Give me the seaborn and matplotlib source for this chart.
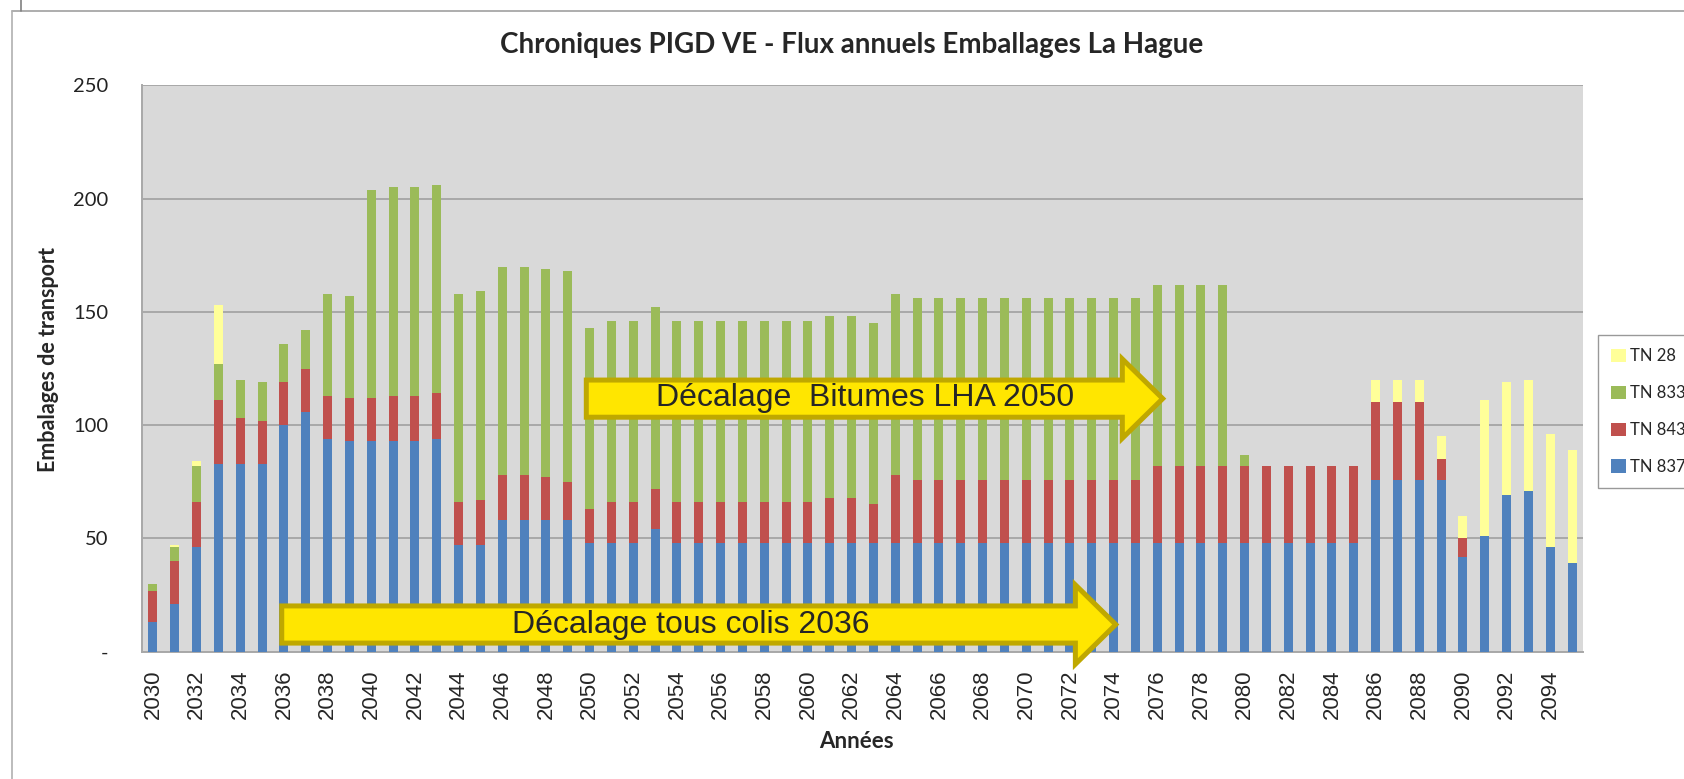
import matplotlib
matplotlib.use("Agg")
import matplotlib.pyplot as plt
from matplotlib.patches import FancyArrow, Patch
from matplotlib.lines import Line2D
import seaborn as sns
import numpy as np
import pandas as pd

years = list(range(2030, 2096))

tn837 = [13, 21, 46, 83, 83, 83, 100, 106, 94, 93,
         93, 93, 93, 94, 47, 47, 58, 58, 58, 58,
         48, 48, 48, 54, 48, 48, 48, 48, 48, 48,
         48, 48, 48, 48, 48, 48, 48, 48, 48, 48,
         48, 48, 48, 48, 48, 48, 48, 48, 48, 48,
         48, 48, 48, 48, 48, 48, 76, 76, 76, 76,
         42, 51, 69, 71, 46, 39]
tn843 = [14, 19, 20, 28, 20, 19, 19, 19, 19, 19,
         19, 20, 20, 20, 19, 20, 20, 20, 19, 17,
         15, 18, 18, 18, 18, 18, 18, 18, 18, 18,
         18, 20, 20, 17, 30, 28, 28, 28, 28, 28,
         28, 28, 28, 28, 28, 28, 34, 34, 34, 34,
         34, 34, 34, 34, 34, 34, 34, 34, 34, 9,
         8, 0, 0, 0, 0, 0]
tn833 = [3, 6, 16, 16, 17, 17, 17, 17, 45, 45,
         92, 92, 92, 92, 92, 92, 92, 92, 92, 93,
         80, 80, 80, 80, 80, 80, 80, 80, 80, 80,
         80, 80, 80, 80, 80, 80, 80, 80, 80, 80,
         80, 80, 80, 80, 80, 80, 80, 80, 80, 80,
         5, 0, 0, 0, 0, 0, 0, 0, 0, 0,
         0, 0, 0, 0, 0, 0]
tn28 = [0, 1, 2, 26, 0, 0, 0, 0, 0, 0,
        0, 0, 0, 0, 0, 0, 0, 0, 0, 0,
        0, 0, 0, 0, 0, 0, 0, 0, 0, 0,
        0, 0, 0, 0, 0, 0, 0, 0, 0, 0,
        0, 0, 0, 0, 0, 0, 0, 0, 0, 0,
        0, 0, 0, 0, 0, 0, 10, 10, 10, 10,
        10, 60, 50, 49, 50, 50]

series_names = ["TN 28", "TN 833", "TN 843", "TN 837"]
colors = {"TN 837": "#4F81BD", "TN 843": "#C0504D", "TN 833": "#9BBB59", "TN 28": "#FFFF99"}

# cumulative tops for layered bars
df = pd.DataFrame({"year": [str(y) for y in years]})
df["TN 837"] = np.array(tn837)
df["TN 843"] = df["TN 837"] + np.array(tn843)
df["TN 833"] = df["TN 843"] + np.array(tn833)
df["TN 28"] = df["TN 833"] + np.array(tn28)

sns.set_style("white")
plt.rcParams["font.family"] = ["Lato", "DejaVu Sans"]

W, H = 1684, 779
fig = plt.figure(figsize=(W / 100, H / 100), dpi=100)
ax = fig.add_axes([142 / W, 1 - 651.7 / H, (1583 - 142) / W, (651.7 - 85.3) / H])
ax.set_facecolor("#D9D9D9")

for name in series_names:
    sns.barplot(data=df, x="year", y=name, color=colors[name], width=0.41,
                saturation=1, linewidth=0, errorbar=None, ax=ax, zorder=3)

ax.set_xlim(-0.5, len(years) - 0.5)
ax.set_ylim(0, 250)
ax.set_yticks([0, 50, 100, 150, 200, 250])
ax.set_yticklabels(["-", "50", "100", "150", "200", "250"], fontsize=14.5, color="#222222")
ax.yaxis.grid(True, color="#A8A8A8", linewidth=1.4, zorder=1)
ax.set_axisbelow(True)
ax.tick_params(axis="y", length=6, color="#A8A8A8", width=1.4, pad=18)

ax.set_xticks(range(0, len(years), 2))
ax.set_xticklabels([str(y) for y in years[::2]], rotation=90, fontsize=16,
                   family=["Liberation Sans", "DejaVu Sans"])
ax.set_xticks(np.arange(-0.5, len(years), 1), minor=True)
ax.tick_params(axis="x", which="major", length=0, pad=13)
ax.tick_params(axis="x", which="minor", length=8, color="#A8A8A8", width=1.4)
ax.set_xlabel("")
ax.set_ylabel("")

for side in ["top", "right"]:
    ax.spines[side].set_visible(False)
for side in ["left", "bottom"]:
    ax.spines[side].set_color("#A8A8A8")
    ax.spines[side].set_linewidth(1.4)

# yellow annotation arrows
arrow_kw = dict(length_includes_head=True, facecolor="#FFE600", edgecolor="#BFA800",
                linewidth=3.6, clip_on=False, zorder=6, joinstyle="miter")
ax.add_patch(FancyArrow(19.85, 111.7, 46.25 - 19.85, 0, width=16.4, head_width=35,
                        head_length=1.85, **arrow_kw))
ax.add_patch(FancyArrow(5.9, 12.0, 44.1 - 5.9, 0, width=16.4, head_width=35,
                        head_length=1.85, **arrow_kw))
ax.text(32.6, 112, "Décalage  Bitumes LHA 2050", fontsize=23, ha="center", va="center",
        family=["Liberation Sans", "DejaVu Sans"], zorder=7)
ax.text(24.64, 11.6, "Décalage tous colis 2036", fontsize=23, ha="center", va="center",
        family=["Liberation Sans", "DejaVu Sans"], zorder=7)

fig.text(852 / W, 1 - 45 / H, "Chroniques PIGD VE - Flux annuels Emballages La Hague",
         fontsize=20, fontweight="bold", ha="center", va="center")
fig.text(49 / W, 1 - 360 / H, "Embalages de transport", fontsize=15.5, fontweight="bold",
         rotation=90, ha="center", va="center")
fig.text(856 / W, 1 - 741 / H, "Années", fontsize=16, fontweight="bold",
         ha="center", va="center")

handles = [Patch(facecolor=colors[n], edgecolor="none") for n in series_names]
fig.legend(handles, series_names, loc="upper left", bbox_to_anchor=(1598 / W, 1 - 335 / H),
           fontsize=12, frameon=True, fancybox=False, edgecolor="#808080",
           handlelength=0.85, handleheight=0.85, handletextpad=0.3, labelspacing=1.25,
           borderpad=0.8, borderaxespad=0)

# outer frame lines
fig.add_artist(Line2D([11.7 / W, 1], [1 - 11 / H, 1 - 11 / H], color="#A0A0A0", linewidth=1.2))
fig.add_artist(Line2D([11.7 / W, 11.7 / W], [0, 1 - 11 / H], color="#B0B0B0", linewidth=1.2))
fig.add_artist(Line2D([20.7 / W, 20.7 / W], [1 - 11 / H, 1], color="#808080", linewidth=1.2))

fig.savefig("out.png", dpi=100)
